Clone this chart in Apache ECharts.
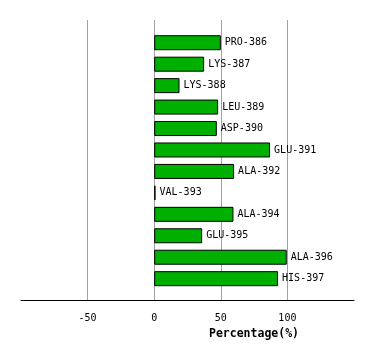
<!DOCTYPE html>
<html>
<head>
<meta charset="utf-8">
<script src="https://cdn.jsdelivr.net/npm/echarts@6/dist/echarts.min.js"></script>
<style>html,body{margin:0;padding:0;background:#fff;}#c{width:374px;height:360px;}</style>
</head>
<body>
<div id="c"></div>
<script>
var categories = ['PRO-386','LYS-387','LYS-388','LEU-389','ASP-390','GLU-391','ALA-392','VAL-393','ALA-394','GLU-395','ALA-396','HIS-397'];
var values = [50, 37.5, 19, 48, 47, 87, 60, 1, 59.5, 36, 99.5, 93];
var xMin = -100, xMax = 150, xStep = 50;
var axisTitle = 'Percentage(%)';

var chart = echarts.init(document.getElementById('c'), null, {renderer: 'canvas'});
var mono = 'DejaVu Sans Mono';
chart.setOption({
  animation: false,
  backgroundColor: '#ffffff',
  grid: [
    {left: 21, right: 20, top: 32, bottom: 70.6},
    {left: 21, right: 20, top: 20, bottom: 60}
  ],
  xAxis: [
    {gridIndex: 0, type: 'value', min: xMin, max: xMax, interval: xStep, show: false},
    {gridIndex: 1, type: 'value', min: xMin, max: xMax, interval: xStep,
     axisLine: {show: true, onZero: false, lineStyle: {color: '#000', width: 1}},
     axisTick: {show: false},
     axisLabel: {show: true, showMinLabel: false, showMaxLabel: false, margin: 13,
       fontFamily: mono, fontSize: 10, color: '#000'},
     splitLine: {show: true, showMinLine: false, showMaxLine: false, lineStyle: {color: '#a0a0a0', width: 1}}
    }
  ],
  yAxis: [
    {gridIndex: 0, type: 'category', data: categories, inverse: true, show: false},
    {gridIndex: 1, type: 'value', min: 0, max: 1, show: false}
  ],
  series: [{
    type: 'bar',
    xAxisIndex: 0, yAxisIndex: 0,
    data: values,
    barWidth: 15,
    itemStyle: {color: '#00b000', borderColor: '#000', borderWidth: 1},
    label: {
      show: true, position: 'right', distance: 4,
      formatter: function (p) { return categories[p.dataIndex]; },
      fontFamily: mono, fontSize: 10, color: '#000'
    }
  }],
  graphic: [{
    type: 'text', left: 209, top: 328,
    style: {text: axisTitle, font: 'bold 11.5px "DejaVu Sans Mono"', fill: '#000'}
  }]
});
</script>
</body>
</html>
